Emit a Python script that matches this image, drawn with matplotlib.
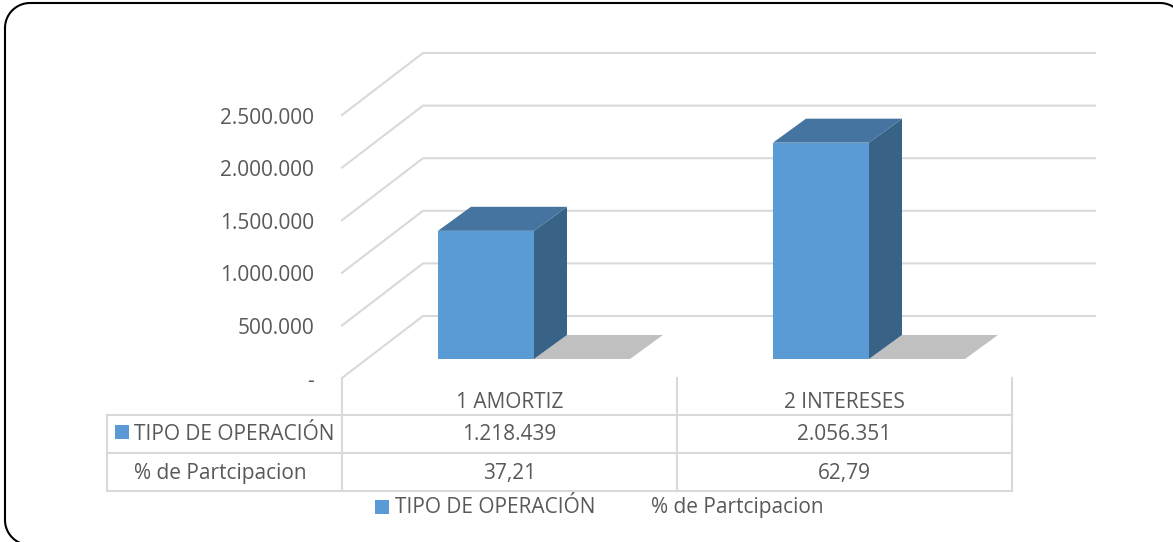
# -*- coding: utf-8 -*-
# Fake 3D clustered column chart with data table underneath (Excel style)
import numpy as np
import matplotlib
matplotlib.use('Agg')
import matplotlib.pyplot as plt
from matplotlib.patches import Polygon

categories = ['1 AMORTIZ', '2 INTERESES']
series_names = ['TIPO DE OPERACIÓN', '% de Partcipacion']
operacion = [1218439, 2056351]
participacion = [37.21, 62.79]
operacion_labels = ['1.218.439', '2.056.351']
participacion_labels = ['37,21', '62,79']
y_ticks = [0, 500000, 1000000, 1500000, 2000000, 2500000]
y_tick_labels = ['-', '500.000', '1.000.000', '1.500.000', '2.000.000', '2.500.000']

plt.rcParams['font.family'] = ['Open Sans', 'DejaVu Sans']
TXT = '#595959'
GRID = '#d9d9d9'
FS = 15.0
W, H = 1173, 542

# pixel scales of the front plane
px_cat = 335.0   # pixels per category
px_val = 105.2 / 1e6   # pixels per unit of value
x0_px, y0_px = 342.0, 378.0
wall_dx, wall_dy = 81.0 / px_cat, 62.0 / px_val   # wall depth
base_dx, base_dy = 24.5 / px_cat, 19.0 / px_val   # where the bars stand on the floor
bar_dx, bar_dy = 33.0 / px_cat, 24.0 / px_val     # depth of one bar
bar_w = 96.0 / px_cat

fig = plt.figure(figsize=(W / 100, H / 100), dpi=100)
ax = fig.add_axes([0, 0, 1, 1])
ax.set_xlim(-x0_px / px_cat, (W - x0_px) / px_cat)
ax.set_ylim(-(H - y0_px) / px_val, y0_px / px_val)
ax.axis('off')

# overlay in pixels for frame, table and text
ov = fig.add_axes([0, 0, 1, 1])
ov.set_xlim(0, W)
ov.set_ylim(H, 0)
ov.axis('off')
ov.patch.set_alpha(0)

# walls
wall_end = 2 + 2.0 / px_cat
for t in y_ticks:
    ax.plot([0, wall_dx, wall_end + wall_dx], [t, t + wall_dy, t + wall_dy],
            color=GRID, lw=1.5, solid_joinstyle='miter', zorder=1)


def draw_bar(x, val, front, top, side):
    xl = x + base_dx
    xr = xl + bar_w
    y0 = base_dy
    y1 = base_dy + val
    ax.add_patch(Polygon([(xr, y0), (xr + bar_dx, y0 + bar_dy), (xr + bar_dx, y1 + bar_dy), (xr, y1)],
                         closed=True, fc=side, ec='none', zorder=3))
    ax.add_patch(Polygon([(xl, y1), (xr, y1), (xr + bar_dx, y1 + bar_dy), (xl + bar_dx, y1 + bar_dy)],
                         closed=True, fc=top, ec='none', zorder=3))
    ax.add_patch(Polygon([(xl, y0), (xr, y0), (xr, y1), (xl, y1)],
                         closed=True, fc=front, ec='none', zorder=4))


# cluster of two series centred in each category
for i in range(len(categories)):
    c = i + 0.5
    draw_bar(c, participacion[i], '#a5a5a5', '#c0c0c0', '#7f7f7f')
    draw_bar(c - bar_w, operacion[i], '#5b9bd5', '#44749f', '#386387')

# value axis labels, baseline sits under the tick
for t, lab in zip(y_ticks, y_tick_labels):
    ax.text(-28.0 / px_cat, t - 8.5 / px_val, lab, ha='right', va='baseline', fontsize=FS, color=TXT)

# data table
for x in [342, 677, 1012]:
    ov.plot([x, x], [378, 491], color=GRID, lw=1.5)
ov.plot([107, 107], [415, 491], color=GRID, lw=1.5)
for y in [415, 453, 491]:
    ov.plot([107, 1012], [y, y], color=GRID, lw=1.5)

for i in range(2):
    cx = 342 + px_cat * (i + 0.5)
    ov.text(cx, 408, categories[i], ha='center', va='baseline', fontsize=FS, color=TXT)
    ov.text(cx, 440, operacion_labels[i], ha='center', va='baseline', fontsize=FS, color=TXT)
    ov.text(cx, 479, participacion_labels[i], ha='center', va='baseline', fontsize=FS, color=TXT)

ov.add_patch(plt.Rectangle((115, 425), 14, 14, fc='#5b9bd5', ec='none'))
ov.text(134, 440, series_names[0], ha='left', va='baseline', fontsize=FS, color=TXT)
ov.text(134, 479, series_names[1], ha='left', va='baseline', fontsize=FS, color=TXT)

# legend
ov.add_patch(plt.Rectangle((375, 500), 14, 14, fc='#5b9bd5', ec='none'))
ov.text(395, 513, series_names[0], ha='left', va='baseline', fontsize=FS, color=TXT)
ov.text(651, 513, series_names[1], ha='left', va='baseline', fontsize=FS, color=TXT)

# rounded frame, runs off the picture on the right and at the bottom
r = 25
xl, xr, yt, yb = 5, 1185, 3, 545
a = np.linspace(0, np.pi / 2, 20)
top_x = np.r_[xl + r - r * np.cos(a), xr - r + r * np.sin(a)]
top_y = np.r_[yt + r - r * np.sin(a), yt + r - r * np.cos(a)]
ov.plot(top_x, top_y, color='black', lw=1.5)
ov.plot(xl + r - r * np.cos(a), yb - r + r * np.sin(a), color='black', lw=1.5)
ov.plot([xl, xl], [yt + r, yb - r], color='black', lw=1.5)

fig.savefig('out.png', dpi=100)
